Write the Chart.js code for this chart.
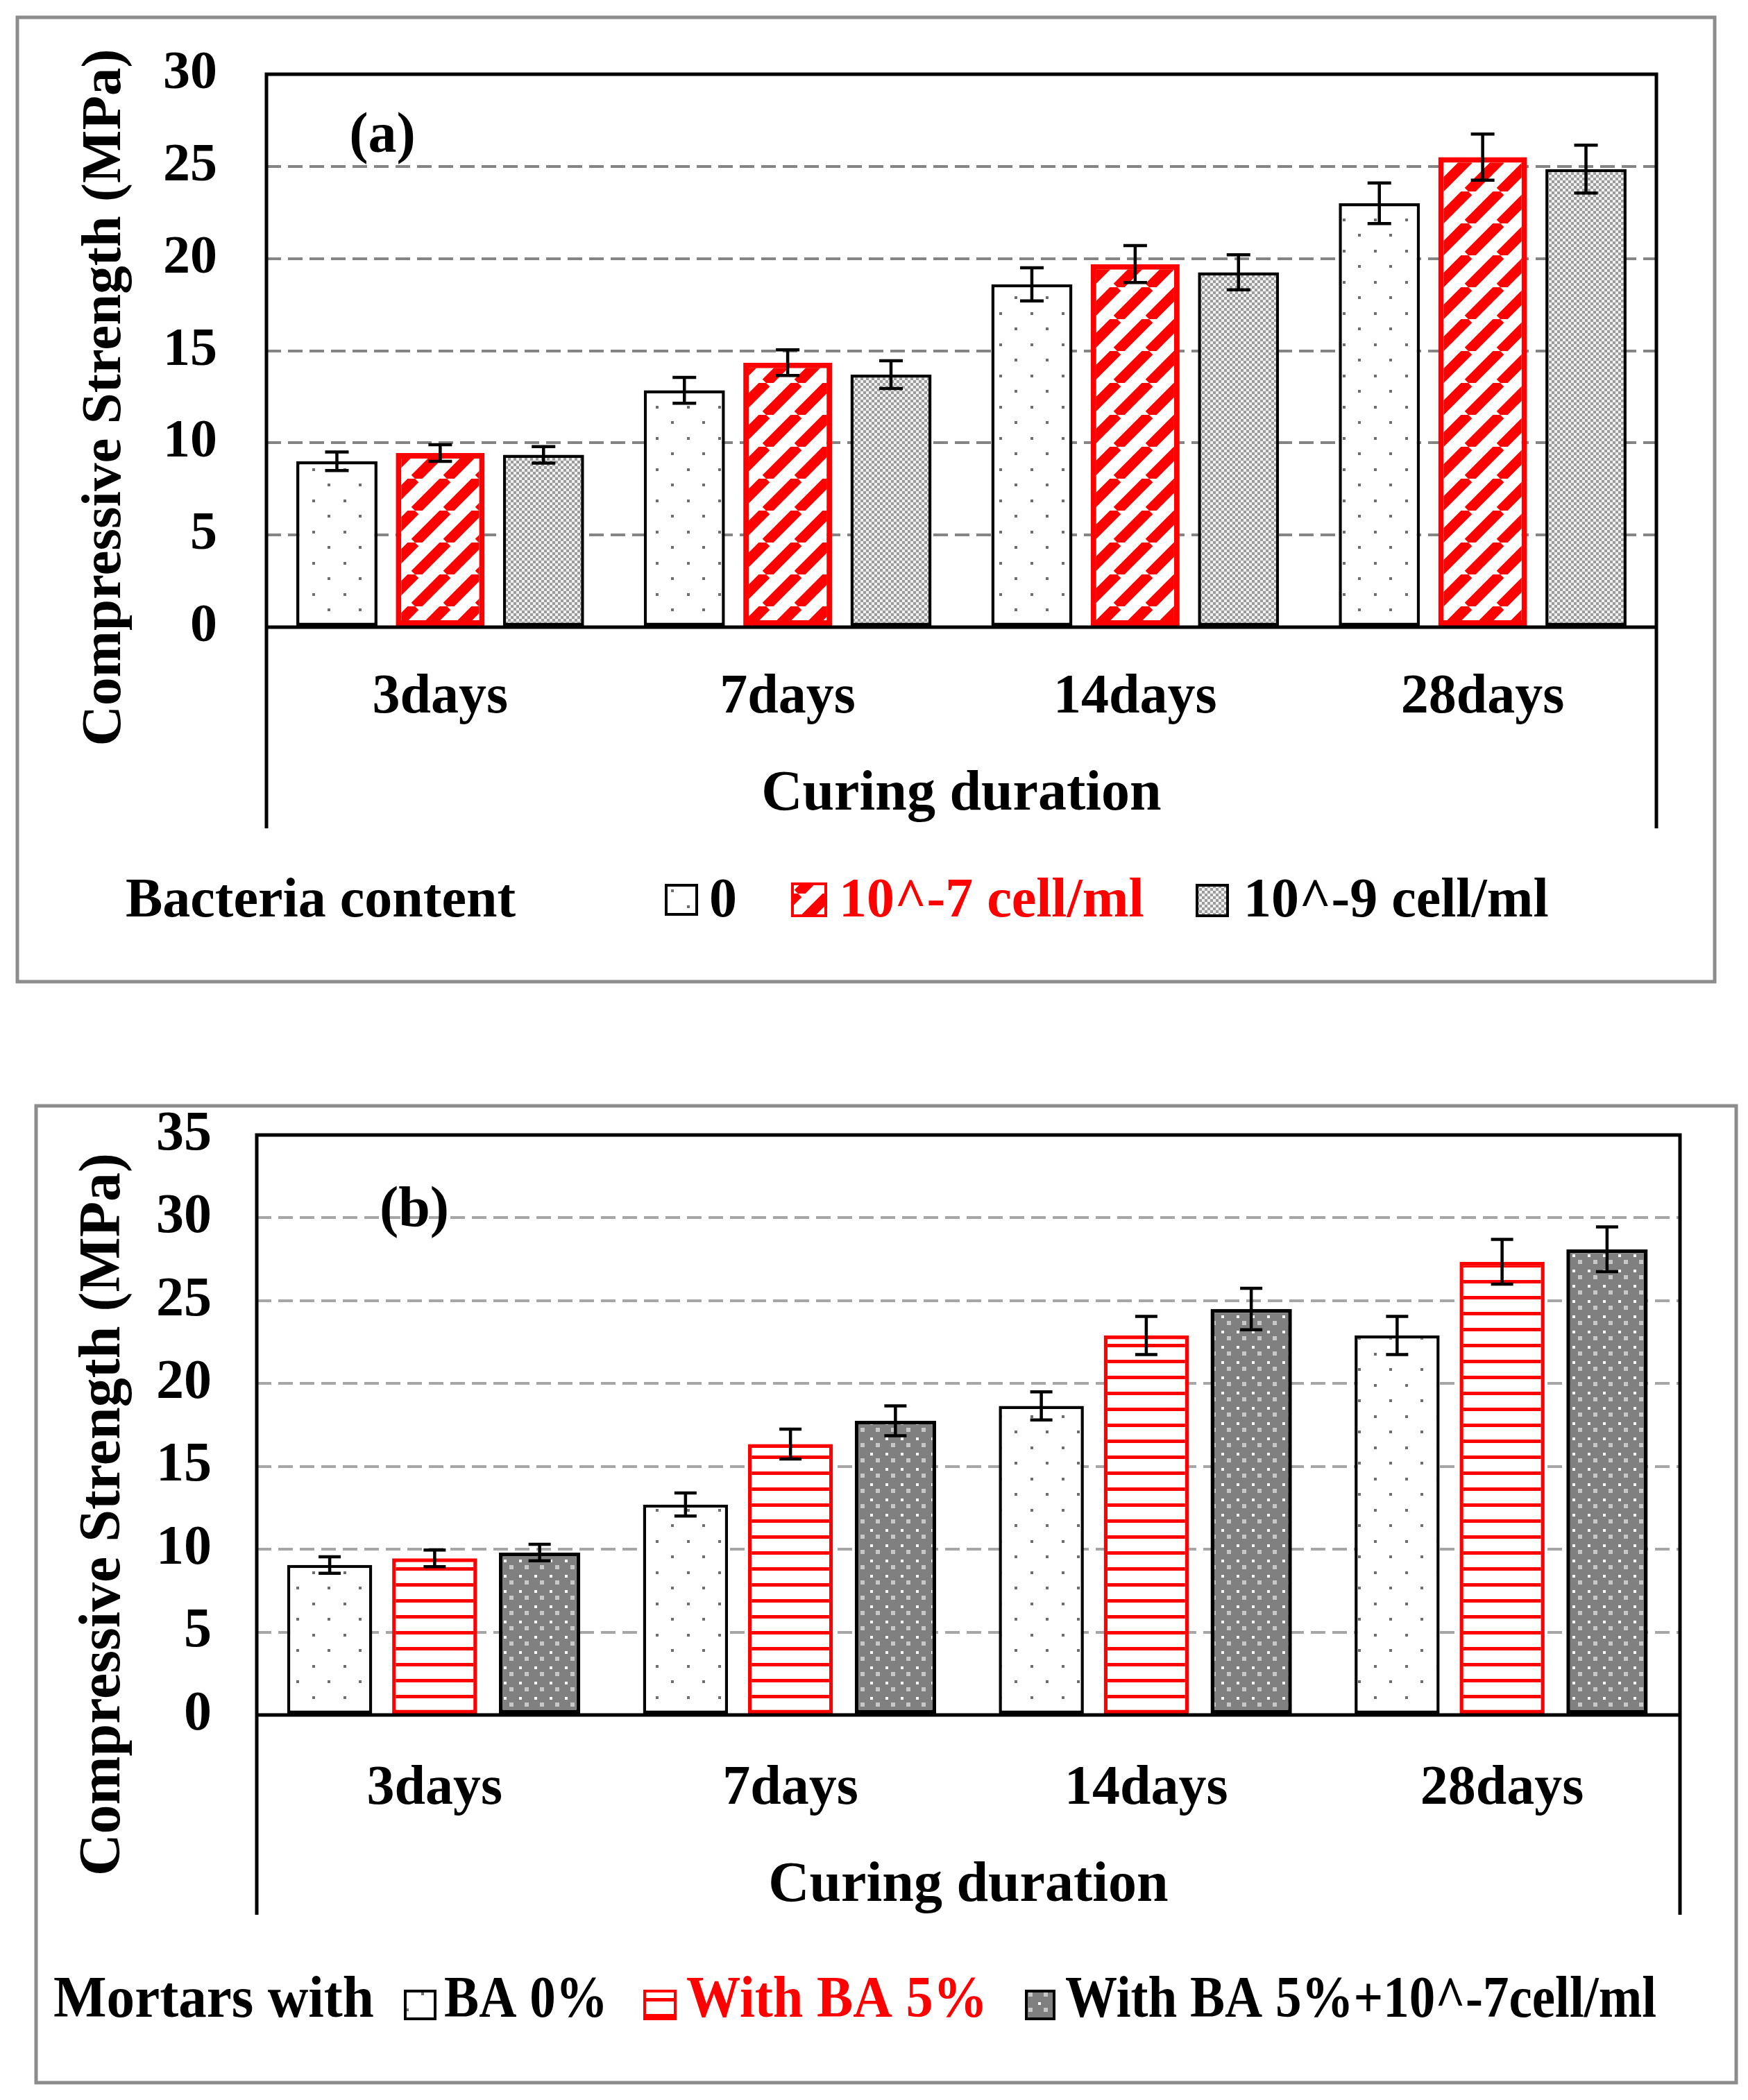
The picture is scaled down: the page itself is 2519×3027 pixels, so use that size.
<!DOCTYPE html>
<html>
<head>
<meta charset="utf-8">
<script src="https://cdn.jsdelivr.net/npm/chart.js@4.4.1/dist/chart.umd.min.js"></script>
<style>
  html, body { margin: 0; padding: 0; background: #fff; }
  body { width: 2519px; height: 3027px; position: relative; overflow: hidden; }
  canvas { position: absolute; left: 0; }
  #chartA { top: 0; }
  #chartB { top: 1500px; }
</style>
</head>
<body>
<canvas id="chartA" width="2519" height="1480"></canvas>
<canvas id="chartB" width="2519" height="1527"></canvas>
<script>
const days = ['3days', '7days', '14days', '28days'];

// (a) bacteria content
const bacteriaLabels = ['0', '10^-7 cell/ml', '10^-9 cell/ml'];
const strengthA0 = [9.0, 12.85, 18.6, 23.0];
const strengthA7 = [9.45, 14.35, 19.7, 25.5];
const strengthA9 = [9.35, 13.7, 19.25, 24.85];
const errorA0 = [0.5, 0.7, 0.9, 1.1];
const errorA7 = [0.45, 0.7, 1.0, 1.25];
const errorA9 = [0.45, 0.75, 0.95, 1.3];
const ticksA = [0, 5, 10, 15, 20, 25, 30];

// (b) mortars with bottom ash
const mortarLabels = ['BA 0%', 'With BA 5%', 'With BA 5%+10^-7cell/ml'];
const strengthB0 = [9.05, 12.7, 18.65, 22.9];
const strengthB5 = [9.45, 16.35, 22.9, 27.35];
const strengthB5c = [9.8, 17.75, 24.5, 28.1];
const errorB0 = [0.5, 0.7, 0.85, 1.15];
const errorB5 = [0.5, 0.9, 1.15, 1.35];
const errorB5c = [0.5, 0.9, 1.25, 1.35];
const ticksB = [0, 5, 10, 15, 20, 25, 30, 35];

const SERIF = "'Liberation Serif', 'Times New Roman', serif";
const RED = '#ff0000';

// small tiles used as bar fills
function tile(ctx, w, h, draw) {
  const c = document.createElement('canvas');
  c.width = w; c.height = h;
  draw(c.getContext('2d'), w, h);
  return ctx.createPattern(c, 'repeat');
}
function dots(ctx) {
  return tile(ctx, 45, 45, (g) => {
    g.fillStyle = '#fff'; g.fillRect(0, 0, 45, 45);
    g.fillStyle = '#6e6e6e';
    g.fillRect(0, 0, 4, 4); g.fillRect(22, 22, 4, 4);
  });
}
function checker(ctx) {
  return tile(ctx, 8, 8, (g) => {
    g.fillStyle = '#f0f0f0'; g.fillRect(0, 0, 8, 8);
    g.fillStyle = '#9c9c9c';
    g.fillRect(0, 0, 4, 4); g.fillRect(4, 4, 4, 4);
  });
}
function diagonal(ctx) {
  return tile(ctx, 46, 46, (g, w, h) => {
    g.fillStyle = '#fff'; g.fillRect(0, 0, w, h);
    g.strokeStyle = RED; g.lineWidth = 15;
    g.beginPath();
    for (let k = -1; k <= 1; k++) { g.moveTo(k * w, h); g.lineTo(k * w + w, 0); }
    g.stroke();
  });
}
function hlines(ctx) {
  return tile(ctx, 10, 23, (g) => {
    g.fillStyle = '#fff'; g.fillRect(0, 0, 10, 23);
    g.fillStyle = RED; g.fillRect(0, 0, 10, 5);
  });
}
function darkDots(ctx) {
  return tile(ctx, 22, 22, (g) => {
    g.fillStyle = '#808080'; g.fillRect(0, 0, 22, 22);
    g.fillStyle = '#fff'; g.fillRect(0, 0, 4, 4);
    g.fillStyle = '#c8c8c8'; g.fillRect(8, 8, 6, 6);
  });
}

// error bars, plot frame, outer box, panel letter, y title and legend
const decor = {
  id: 'decor',
  afterDatasetsDraw(chart, args, o) {
    const { ctx, chartArea: a, scales: { y } } = chart;
    ctx.save();
    ctx.strokeStyle = '#000';
    ctx.lineWidth = o.errWidth;
    chart.data.datasets.forEach((ds, i) => {
      chart.getDatasetMeta(i).data.forEach((bar, j) => {
        const hi = y.getPixelForValue(ds.data[j] + ds.errors[j]);
        const lo = y.getPixelForValue(ds.data[j] - ds.errors[j]);
        ctx.beginPath();
        ctx.moveTo(bar.x, hi); ctx.lineTo(bar.x, lo);
        ctx.moveTo(bar.x - o.cap, hi); ctx.lineTo(bar.x + o.cap, hi);
        ctx.moveTo(bar.x - o.cap, lo); ctx.lineTo(bar.x + o.cap, lo);
        ctx.stroke();
      });
    });
    ctx.lineWidth = 5;
    ctx.beginPath();
    ctx.moveTo(a.left, o.frameBottom); ctx.lineTo(a.left, a.top);
    ctx.lineTo(a.right, a.top); ctx.lineTo(a.right, o.frameBottom);
    ctx.moveTo(a.left - 2, a.bottom); ctx.lineTo(a.right + 2, a.bottom);
    ctx.stroke();
    ctx.restore();
  },
  afterDraw(chart, args, o) {
    const ctx = chart.ctx;
    ctx.save();
    ctx.strokeStyle = '#8c8c8c';
    ctx.lineWidth = 5;
    ctx.strokeRect(...o.outer);

    ctx.fillStyle = '#000';
    ctx.textAlign = 'center';
    ctx.textBaseline = 'middle';
    ctx.font = 'bold 82px ' + SERIF;
    ctx.fillText(o.panel, o.panelX, o.panelY);

    ctx.save();
    ctx.translate(o.yTitleX, o.yTitleY);
    ctx.rotate(-Math.PI / 2);
    ctx.font = 'bold ' + o.yTitleSize + 'px ' + SERIF;
    ctx.fillText('Compressive Strength (MPa)', 0, 0);
    ctx.restore();

    const lg = o.legend;
    ctx.textAlign = 'left';
    ctx.textBaseline = 'alphabetic';
    ctx.font = 'bold ' + lg.size + 'px ' + SERIF;
    ctx.fillText(lg.title, lg.titleX, lg.baseline, lg.titleW);
    chart.data.datasets.forEach((ds, i) => {
      const it = lg.items[i];
      const [bx, by, bw, bh] = it.box;
      ctx.fillStyle = ds.backgroundColor;
      ctx.fillRect(bx, by, bw, bh);
      ctx.strokeStyle = ds.borderColor;
      ctx.lineWidth = 4;
      ctx.strokeRect(bx, by, bw, bh);
      ctx.fillStyle = ds.borderColor === RED ? RED : '#000';
      ctx.fillText(ds.label, it.textX, lg.baseline, it.textW);
    });
    ctx.restore();
  }
};

function makeChart(id, spec) {
  const ctx = document.getElementById(id).getContext('2d');
  const top = spec.ticks[spec.ticks.length - 1];
  return new Chart(ctx, {
    type: 'bar',
    data: {
      labels: days,
      datasets: spec.datasets(ctx),
    },
    options: {
      responsive: false,
      devicePixelRatio: 1,
      animation: false,
      layout: { padding: spec.padding },
      plugins: {
        legend: { display: false },
        tooltip: { enabled: false },
        decor: spec.decor,
      },
      scales: {
        x: {
          afterFit: (s) => { s.height = spec.xHeight; },
          grid: { display: false, drawTicks: false },
          border: { display: false },
          ticks: {
            color: '#000',
            font: { family: SERIF, size: 80, weight: 'bold' },
            padding: spec.xTickPad,
            maxRotation: 0,
            autoSkip: false,
          },
          title: {
            display: true,
            text: 'Curing duration',
            color: '#000',
            font: { family: SERIF, size: 82, weight: 'bold' },
            padding: { top: 0, bottom: spec.xTitlePad },
          },
        },
        y: {
          min: 0,
          max: top,
          afterBuildTicks: (s) => { s.ticks = spec.ticks.map((v) => ({ value: v })); },
          afterFit: (s) => {
            s.width = spec.yWidth;
            s.paddingTop = 0;      // keep label padding from pushing the plot down
            s.paddingBottom = 0;
          },
          ticks: {
            color: '#000',
            font: { family: SERIF, size: spec.yTickSize, weight: 'bold' },
            padding: spec.yTickPad,
          },
          grid: {
            drawTicks: false,
            lineWidth: 4,
            color: (c) => (c.tick && c.tick.value > 0 && c.tick.value < top) ? spec.gridColor : 'rgba(0,0,0,0)',
          },
          border: { display: false, dash: [21, 10] },
        },
      },
    },
    plugins: [decor],
  });
}

makeChart('chartA', {
  ticks: ticksA,
  padding: { left: 0, top: 107, right: 132, bottom: 0 },
  xHeight: 576,
  yWidth: 384,
  xTickPad: 54,
  xTitlePad: 285,
  yTickPad: 71,
  yTickSize: 78,
  gridColor: '#858585',
  datasets: (ctx) => [
    { label: bacteriaLabels[0], data: strengthA0, errors: errorA0, backgroundColor: dots(ctx),
      borderColor: '#000', borderWidth: 4.5, borderSkipped: false, barPercentage: 0.785, categoryPercentage: 0.892 },
    { label: bacteriaLabels[1], data: strengthA7, errors: errorA7, backgroundColor: diagonal(ctx),
      borderColor: RED, borderWidth: 8, borderSkipped: false, barPercentage: 0.86, categoryPercentage: 0.892 },
    { label: bacteriaLabels[2], data: strengthA9, errors: errorA9, backgroundColor: checker(ctx),
      borderColor: '#000', borderWidth: 4.5, borderSkipped: false, barPercentage: 0.785, categoryPercentage: 0.892 },
  ],
  decor: {
    errWidth: 4.5, cap: 17, frameBottom: 1194,
    outer: [25, 25, 2446, 1390],
    panel: '(a)', panelX: 551, panelY: 198,
    yTitleX: 152, yTitleY: 573, yTitleSize: 81,
    legend: {
      title: 'Bacteria content', titleX: 181, titleW: 580, baseline: 1321, size: 80,
      items: [
        { box: [960, 1276, 44, 42], textX: 1022 },
        { box: [1142, 1274, 48, 46], textX: 1209 },
        { box: [1725, 1276, 44, 44], textX: 1792 },
      ],
    },
  },
});

makeChart('chartB', {
  ticks: ticksB,
  padding: { left: 0, top: 136, right: 98, bottom: 0 },
  xHeight: 555,
  yWidth: 370,
  xTickPad: 59,
  xTitlePad: 259,
  yTickPad: 65,
  yTickSize: 80,
  gridColor: '#a6a6a6',
  datasets: (ctx) => [
    { label: mortarLabels[0], data: strengthB0, errors: errorB0, backgroundColor: dots(ctx),
      borderColor: '#000', borderWidth: 4.5, borderSkipped: false, barPercentage: 0.81, categoryPercentage: 0.885 },
    { label: mortarLabels[1], data: strengthB5, errors: errorB5, backgroundColor: hlines(ctx),
      borderColor: RED, borderWidth: 5.5, borderSkipped: false, barPercentage: 0.81, categoryPercentage: 0.885 },
    { label: mortarLabels[2], data: strengthB5c, errors: errorB5c, backgroundColor: darkDots(ctx),
      borderColor: '#000', borderWidth: 5.5, borderSkipped: false, barPercentage: 0.775, categoryPercentage: 0.885 },
  ],
  decor: {
    errWidth: 4.5, cap: 16, frameBottom: 1260,
    outer: [52, 94, 2450, 1408],
    panel: '(b)', panelX: 597, panelY: 246,
    yTitleX: 150, yTitleY: 683, yTitleSize: 84,
    legend: {
      title: 'Mortars with', titleX: 77, titleW: 462, baseline: 1407, size: 84,
      items: [
        { box: [584, 1370, 43, 40], textX: 640, textW: 236 },
        { box: [929, 1370, 44, 40], textX: 989, textW: 434 },
        { box: [1479, 1370, 40, 40], textX: 1535, textW: 852 },
      ],
    },
  },
});
</script>
</body>
</html>
